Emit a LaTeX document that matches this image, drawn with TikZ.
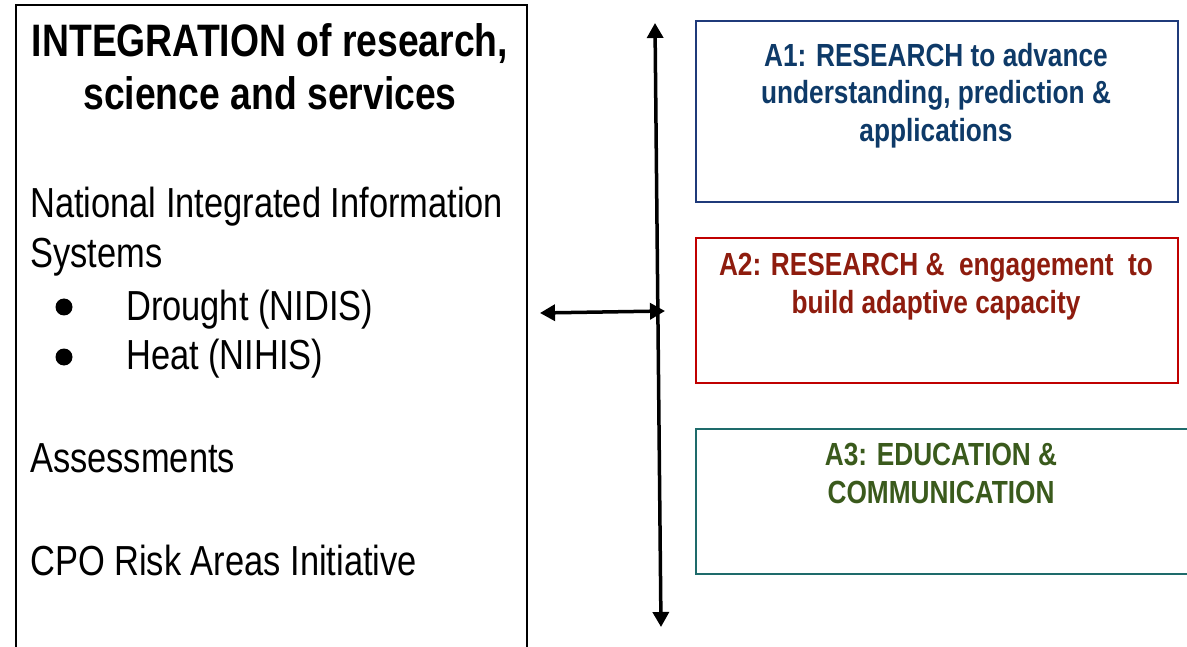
\documentclass[tikz,border=0pt]{standalone}
\usepackage{fontspec}
\setmainfont[FakeStretch=0.82]{Liberation Sans}
\usetikzlibrary{arrows.meta}

\definecolor{navytext}{HTML}{0E3A68}
\definecolor{navyline}{HTML}{1F3A7A}
\definecolor{bricktext}{HTML}{8E1C0E}
\definecolor{redline}{HTML}{C00000}
\definecolor{leaftext}{HTML}{3A5A1C}
\definecolor{tealline}{HTML}{1E6B6B}

\begin{document}
\begin{tikzpicture}[x=1pt,y=-1pt,
  panel/.style={draw,line width=2pt,inner sep=0pt,anchor=north west},
  headtext/.style={font=\bfseries\fontsize{32}{37.5}\selectfont,align=center,anchor=north,inner sep=0pt},
  titletext/.style={font=\bfseries\fontsize{45.5}{53}\selectfont,align=center,anchor=north,inner sep=0pt},
  bodytext/.style={font=\fontsize{42}{49}\selectfont,anchor=base west,inner sep=0pt},
  bullet/.style={fill=black},
  link/.style={line width=3.5pt,{Triangle[length=15pt,width=16pt]}-{Triangle[length=15pt,width=16pt]}}]
\useasboundingbox (0,0) rectangle (1187,647);

% left panel: integration of research, science and services
\node[panel,line width=1.6pt,minimum width=511pt,minimum height=680pt] (integ) at (15,4) {};
\node[titletext] (title) at (270,23) {INTEGRATION of research,\\science and services};
\node[bodytext] (nii) at (30,218) {National Integrated Information};
\node[bodytext] (sys) at (30,268) {Systems};
\fill[bullet] (64,307) circle (8.5pt);
\node[bodytext] (nidis) at (126,320) {Drought (NIDIS)};
\fill[bullet] (64,357) circle (8.5pt);
\node[bodytext] (nihis) at (126,370) {Heat (NIHIS)};
\node[bodytext] (assess) at (30,472) {Assessments};
\node[bodytext] (cpo) at (30,575) {CPO Risk Areas Initiative};

% activity panels
\node[panel,draw=navyline,minimum width=482pt,minimum height=181pt] (a1) at (695,20) {};
\node[headtext,text=navytext] (a1txt) at (936,43) {A1: RESEARCH to advance\\understanding, prediction \&\\applications};

\node[panel,draw=redline,minimum width=482pt,minimum height=145pt] (a2) at (695,237) {};
\node[headtext,text=bricktext] (a2txt) at (936,253) {A2: RESEARCH \&\ \ engagement\ \ to\\build adaptive capacity};

\node[panel,draw=tealline,minimum width=500pt,minimum height=145pt] (a3) at (695,428) {};
\node[headtext,text=leaftext] (a3txt) at (941,443) {A3: EDUCATION \&\\COMMUNICATION};

% connectors
\coordinate (vtop) at (655,23);
\coordinate (vbot) at (661,627);
\coordinate (hleft) at (540,313);
\coordinate (hright) at (665,311);
\draw[link] (vtop) -- (vbot);
\draw[link] (hleft) -- (hright);
\end{tikzpicture}
\end{document}
